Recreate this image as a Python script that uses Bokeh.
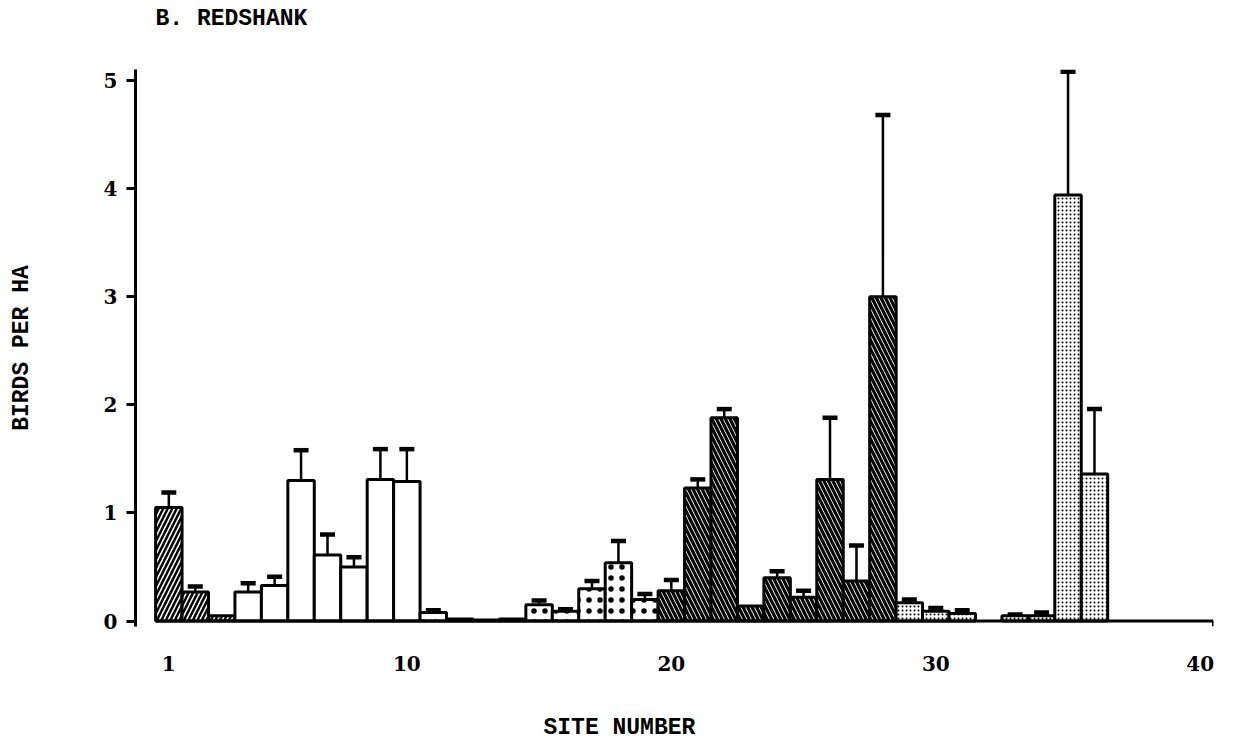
from bokeh.plotting import figure
from bokeh.models import ColumnDataSource, Whisker, TeeHead, FixedTicker, Title
from bokeh.embed import file_html
from bokeh.resources import INLINE

# Redshank density per site (birds per ha), mean and mean + SE
sites = [1, 2, 3, 4, 5, 6, 7, 8, 9, 10,
         11, 12, 13, 14, 15, 16, 17, 18, 19, 20,
         21, 22, 23, 24, 25, 26, 27, 28, 29, 30,
         31, 33, 34, 35, 36]
density = [1.05, 0.27, 0.05, 0.27, 0.33, 1.30, 0.61, 0.50, 1.31, 1.29,
           0.08, 0.02, 0.01, 0.02, 0.15, 0.09, 0.30, 0.54, 0.20, 0.28,
           1.23, 1.88, 0.14, 0.40, 0.22, 1.31, 0.37, 3.00, 0.17, 0.09,
           0.07, 0.05, 0.05, 3.94, 1.36]
upper = [1.19, 0.32, None, 0.35, 0.41, 1.58, 0.80, 0.59, 1.59, 1.59,
         0.10, None, None, None, 0.19, 0.11, 0.37, 0.74, 0.25, 0.38,
         1.31, 1.96, None, 0.46, 0.28, 1.88, 0.70, 4.68, 0.20, 0.12,
         0.10, 0.06, 0.08, 5.08, 1.96]
# site type codes used for the fill pattern of each bar
site_type = ["A", "A", "A", "B", "B", "B", "B", "B", "B", "B",
             "C", "C", "C", "C", "C", "C", "C", "C", "C", "D",
             "D", "D", "D", "D", "D", "D", "D", "D", "E", "E",
             "E", "E", "E", "E", "E"]
x_ticks = [1, 10, 20, 30, 40]
y_ticks = [0, 1, 2, 3, 4, 5]

styles = {
    "A": dict(pattern="/", scale=9, weight=2.5),
    "B": dict(pattern=" ", scale=9, weight=1),
    "C": dict(pattern=".", scale=11, weight=4),
    "D": dict(pattern="\\", scale=9, weight=3.2),
    "E": dict(pattern=".", scale=4, weight=1.6),
}

bars = ColumnDataSource(dict(
    site=sites,
    density=density,
    hatch=[styles[t]["pattern"] for t in site_type],
    hscale=[styles[t]["scale"] for t in site_type],
    hweight=[styles[t]["weight"] for t in site_type],
))

err_rows = [(s, d, u) for s, d, u in zip(sites, density, upper) if u is not None]
errs = ColumnDataSource(dict(
    site=[r[0] for r in err_rows],
    lower=[r[1] for r in err_rows],
    upper=[r[2] for r in err_rows],
))

SERIF = "DejaVu Serif"
MONO = "Liberation Mono"

p = figure(width=1237, height=743, output_backend="svg", toolbar_location=None,
           x_range=(-0.26, 40.5), y_range=(-0.05, 5.1),
           min_border_left=135, min_border_right=24,
           min_border_top=69, min_border_bottom=117,
           title="B. REDSHANK")
p.outline_line_color = None
p.grid.visible = False
p.background_fill_color = "white"

p.title.text_font = MONO
p.title.text_font_style = "bold"
p.title.text_font_size = "23px"
p.title.align = "left"
p.title.offset = 20
p.title.standoff = 0
p.title.text_color = "black"

# blank strip between the heading and the plot area
p.add_layout(Title(text=" ", text_font_size="1px", standoff=35), "above")

# bars
p.vbar(x="site", top="density", bottom=0, width=1.0, source=bars,
       fill_color="white", line_color="black", line_width=3,
       hatch_pattern="hatch", hatch_scale="hscale", hatch_weight="hweight",
       hatch_color="black")

# error bars (upper side only)
p.add_layout(Whisker(source=errs, base="site", lower="lower", upper="upper",
                     dimension="height", line_color="black", line_width=2.5,
                     lower_head=None,
                     upper_head=TeeHead(size=15, line_width=4.5, line_color="black")))

# baseline of the site axis with a hook at its far end
x_lo = sites[0] - 0.5
x_hi = x_ticks[-1] + 0.5
p.segment(x0=[x_lo], y0=[0], x1=[x_hi], y1=[0], line_color="black", line_width=3)
p.segment(x0=[x_hi], y0=[0], x1=[x_hi], y1=[-0.05], line_color="black", line_width=3)

# x axis: labels only
xa = p.xaxis[0]
xa.ticker = FixedTicker(ticks=x_ticks)
xa.axis_line_color = None
xa.major_tick_line_color = None
xa.minor_tick_line_color = None
xa.major_tick_out = 0
xa.major_label_standoff = 29
xa.major_label_text_font = SERIF
xa.major_label_text_font_style = "bold"
xa.major_label_text_font_size = "20px"
xa.major_label_text_color = "black"

# blank strip, then the site-axis title set left of centre
p.add_layout(Title(text=" ", text_font_size="1px", standoff=36), "below")
p.add_layout(Title(text="SITE NUMBER", align="left", offset=408, standoff=0,
                   text_font=MONO, text_font_style="bold", text_font_size="23px",
                   text_color="black"), "below")

# y axis
ya = p.yaxis[0]
ya.ticker = FixedTicker(ticks=y_ticks)
ya.axis_line_color = "black"
ya.axis_line_width = 3
ya.major_tick_line_color = "black"
ya.major_tick_line_width = 3
ya.major_tick_out = 9
ya.major_tick_in = 0
ya.minor_tick_line_color = None
ya.major_label_standoff = 9
ya.major_label_text_font = SERIF
ya.major_label_text_font_style = "bold"
ya.major_label_text_font_size = "20px"
ya.major_label_text_color = "black"
ya.axis_label = "BIRDS PER HA"
ya.axis_label_standoff = 66
ya.axis_label_text_font = MONO
ya.axis_label_text_font_style = "bold"
ya.axis_label_text_font_size = "23px"
ya.axis_label_text_color = "black"

open("out.html", "w").write(file_html(p, INLINE))
